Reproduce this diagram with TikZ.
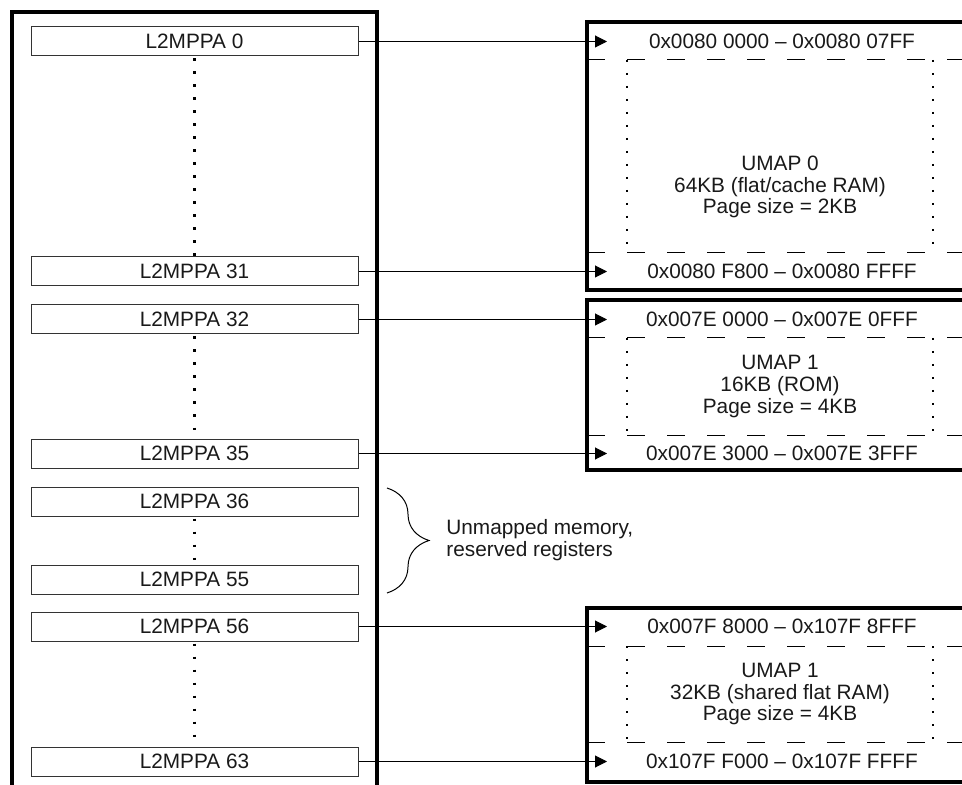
\documentclass[tikz,border=0pt]{standalone}
\usepackage{fontspec}
\setmainfont{Liberation Sans}
\usetikzlibrary{arrows.meta,decorations.pathreplacing,positioning}

\begin{document}
\begin{tikzpicture}[
  x=0.5pt, y=-0.5pt,
  font=\fontsize{10.4}{10.8}\selectfont,
  regbox/.style={rectangle, draw=black!80, line width=0.5pt, minimum width=163.5pt,
                 minimum height=14.5pt, inner sep=0pt, text=black!90},
  frame/.style={line width=1.8pt, line cap=rect},
  addr/.style={inner sep=0pt, text=black!90},
  umap/.style={align=center, inner sep=0pt, text=black!90},
  arr/.style={-{Triangle[length=6pt, width=6pt]}, line width=0.5pt},
  sep/.style={dash pattern=on 9pt off 11pt, line width=0.5pt},
  vdots/.style={dash pattern=on 1.4pt off 5.1pt, line width=1.5pt, shorten <=1pt},
  fdots/.style={dash pattern=on 1.2pt off 5.3pt, line width=1.1pt},
  note/.style={align=left, inner sep=0pt, text=black!90},
]
  \useasboundingbox (0,0) rectangle (962,785);

  % Register file
  \draw[frame] (12,795) -- (12,12) -- (377,12) -- (377,795);
  \node[regbox] (r0)  at (194.5,41.5)  {L2MPPA 0};
  \node[regbox] (r31) at (194.5,271.5) {L2MPPA 31};
  \node[regbox] (r32) at (194.5,319.5) {L2MPPA 32};
  \node[regbox] (r35) at (194.5,453.5) {L2MPPA 35};
  \node[regbox] (r36) at (194.5,501.5) {L2MPPA 36};
  \node[regbox] (r55) at (194.5,579.5) {L2MPPA 55};
  \node[regbox] (r56) at (194.5,626.5) {L2MPPA 56};
  \node[regbox] (r63) at (194.5,761.5) {L2MPPA 63};
  \draw[vdots] (r0.south) -- (r31.north);
  \draw[vdots] (r32.south) -- (r35.north);
  \draw[vdots] (r36.south) -- (r55.north);
  \draw[vdots] (r56.south) -- (r63.north);

  % UMAP 0
  \draw[frame] (975,22) -| (587,290) -- (975,290);
  \draw[sep] (587,60) -- (975,60);
  \draw[sep] (587,253) -- (975,253);
  \draw[fdots] (627,60) -- (627,253);
  \draw[fdots] (933,60) -- (933,253);
  \node[addr] (a0)  at (782,41.5)  {0x0080 0000 -- 0x0080 07FF};
  \node[addr] (a31) at (782,271.5) {0x0080 F800 -- 0x0080 FFFF};
  \node[umap] (u0)  at (780,187) {UMAP 0\\64KB (flat/cache RAM)\\Page size = 2KB};
  \coordinate (t0)  at (607,41.5);
  \coordinate (t31) at (607,271.5);

  % UMAP 1 (ROM)
  \draw[frame] (975,300) -| (587,470) -- (975,470);
  \draw[sep] (587,338) -- (975,338);
  \draw[sep] (587,435) -- (975,435);
  \draw[fdots] (627,338) -- (627,435);
  \draw[fdots] (933,338) -- (933,435);
  \node[addr] (a32) at (782,319.5) {0x007E 0000 -- 0x007E 0FFF};
  \node[addr] (a35) at (782,453.5) {0x007E 3000 -- 0x007E 3FFF};
  \node[umap] (u1)  at (780,386.5) {UMAP 1\\16KB (ROM)\\Page size = 4KB};
  \coordinate (t32) at (607,319.5);
  \coordinate (t35) at (607,453.5);

  % UMAP 1 (shared)
  \draw[frame] (975,608) -| (587,782) -- (975,782);
  \draw[sep] (587,646) -- (975,646);
  \draw[sep] (587,742) -- (975,742);
  \draw[fdots] (627,646) -- (627,742);
  \draw[fdots] (933,646) -- (933,742);
  \node[addr] (a56) at (782,626.5) {0x007F 8000 -- 0x107F 8FFF};
  \node[addr] (a63) at (782,761.5) {0x107F F000 -- 0x107F FFFF};
  \node[umap] (u2)  at (780,694) {UMAP 1\\32KB (shared flat RAM)\\Page size = 4KB};
  \coordinate (t56) at (607,626.5);
  \coordinate (t63) at (607,761.5);

  % Unmapped range
  \coordinate (b36) at (387,488);
  \coordinate (b55) at (387,593);
  \draw[decorate, decoration={brace, amplitude=21pt}, line width=0.5pt] (b36) -- (b55);
  \node[note, anchor=west] (gap) at (446,540) {Unmapped memory,\\reserved registers};

  % Arrows
  \draw[arr] (r0.east) -- (t0);
  \draw[arr] (r31.east) -- (t31);
  \draw[arr] (r32.east) -- (t32);
  \draw[arr] (r35.east) -- (t35);
  \draw[arr] (r56.east) -- (t56);
  \draw[arr] (r63.east) -- (t63);
\end{tikzpicture}
\end{document}
